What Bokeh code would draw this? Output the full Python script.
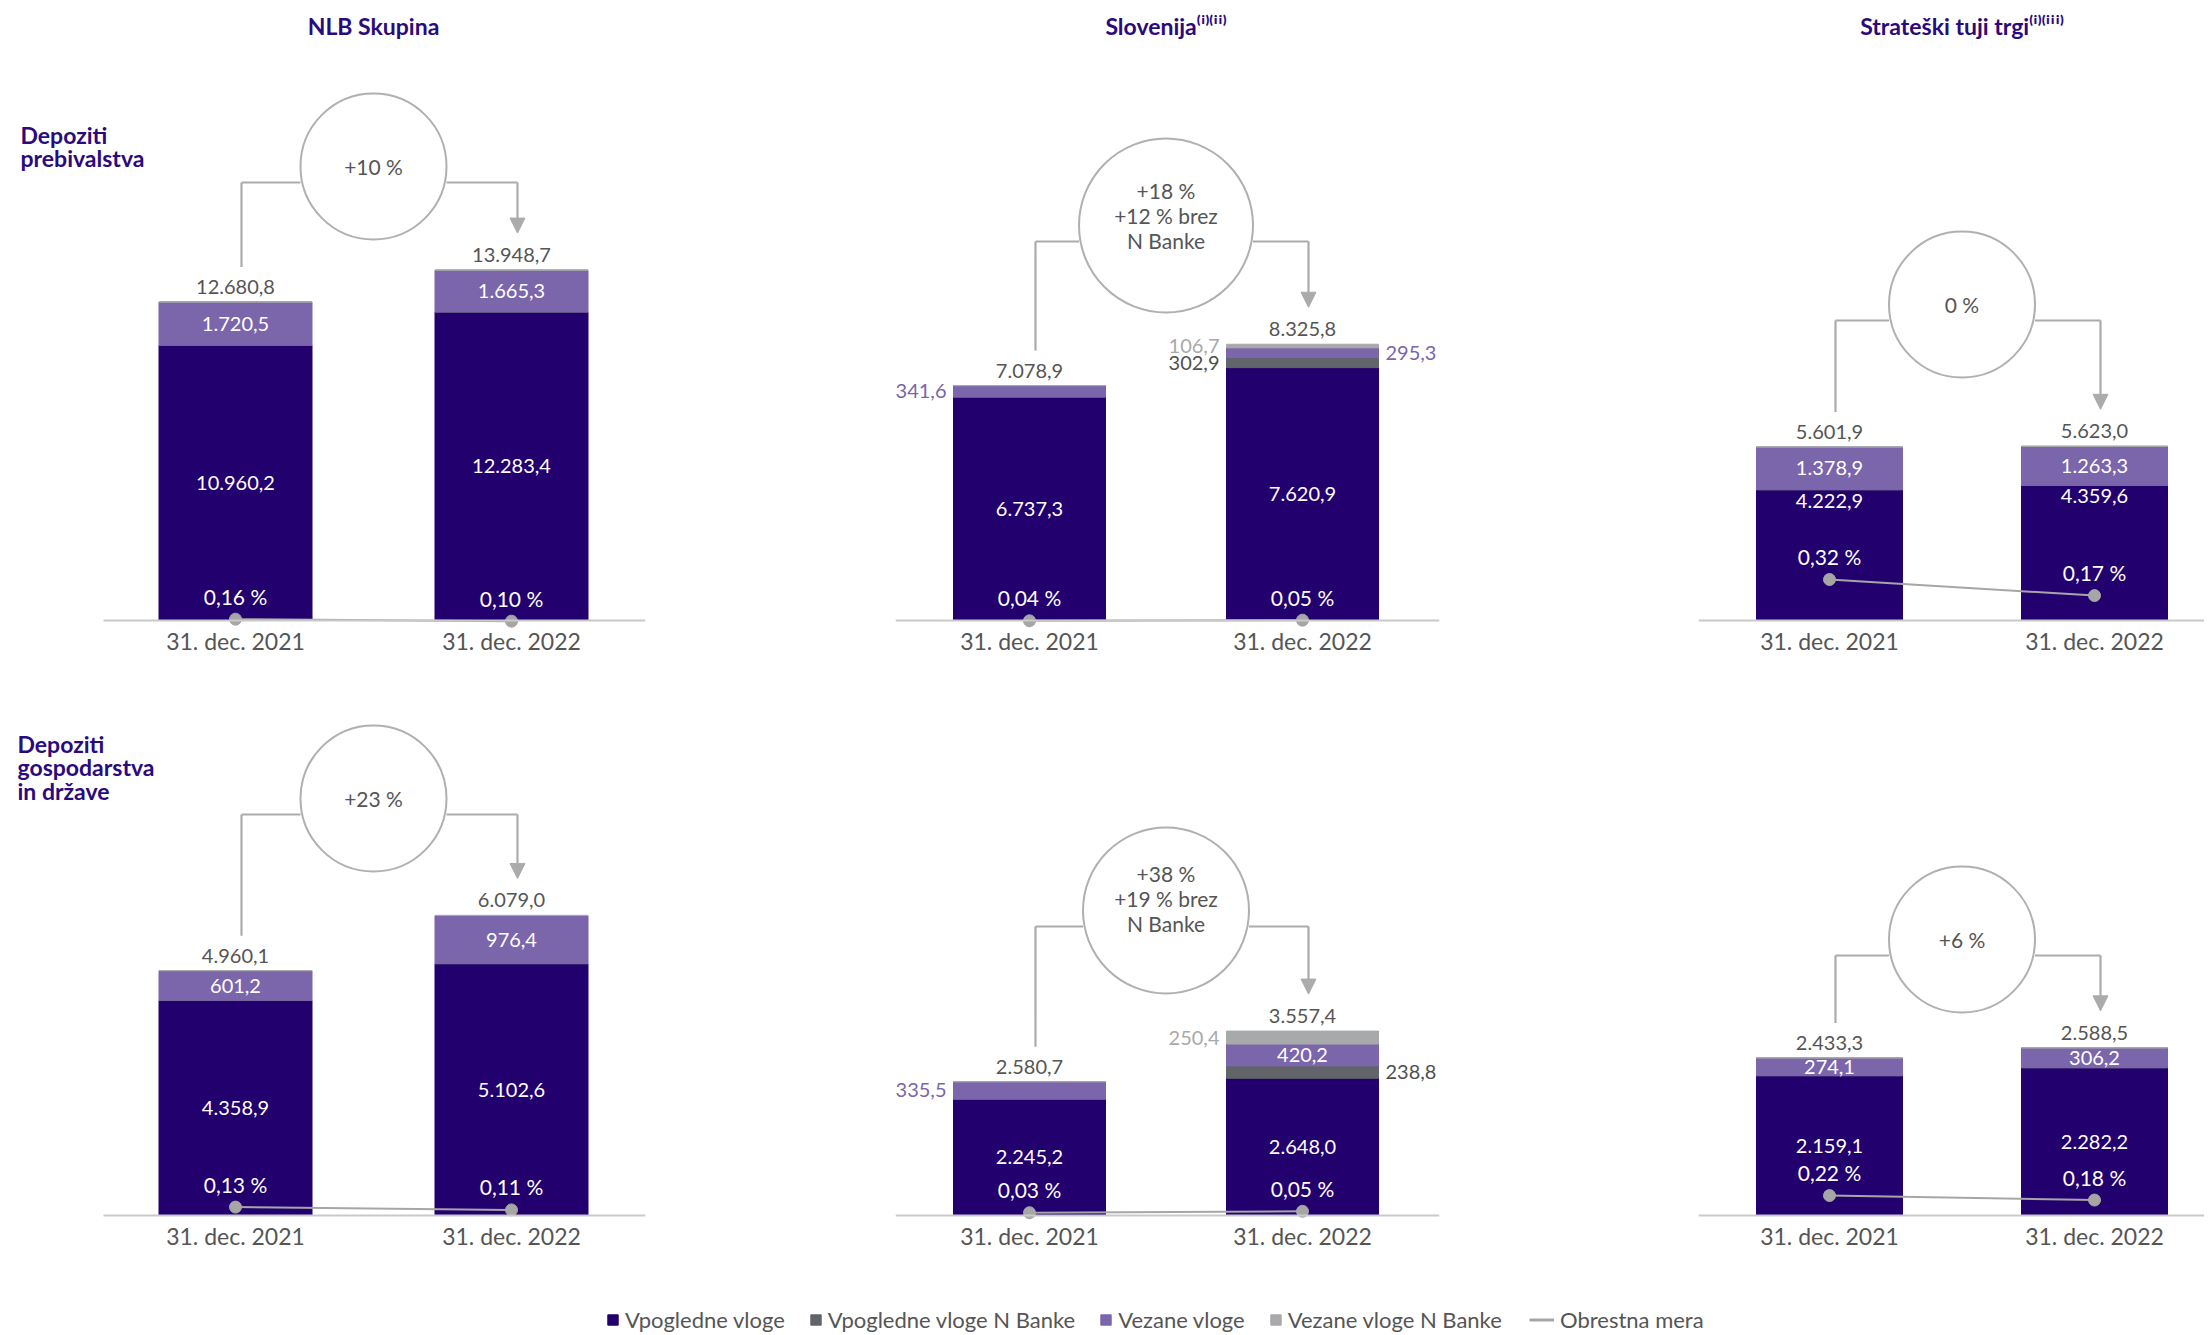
from bokeh.plotting import figure
from bokeh.models import (Range1d, LinearAxis, FixedTicker, Label, Arrow, NormalHead,
                          ColumnDataSource, Legend, LegendItem)
from bokeh.layouts import column, row
from bokeh.embed import file_html
from bokeh.resources import INLINE
from bokeh.core.properties import value

# ---------------- data ----------------
categories = ["31. dec. 2021", "31. dec. 2022"]
series_names = ["Vpogledne vloge", "Vpogledne vloge N Banke", "Vezane vloge", "Vezane vloge N Banke"]
rate_name = "Obrestna mera"
column_titles = ["NLB Skupina", "Slovenija⁽ⁱ⁾⁽ⁱⁱ⁾", "Strateški tuji trgi⁽ⁱ⁾⁽ⁱⁱⁱ⁾"]
row_titles = ["Depoziti\nprebivalstva", "Depoziti\ngospodarstva\nin države"]

# Depoziti prebivalstva
nlb_hh_vpogledne = [10960.2, 12283.4]
nlb_hh_vpogledne_n = [0.0, 0.0]
nlb_hh_vezane = [1720.5, 1665.3]
nlb_hh_vezane_n = [0.0, 0.0]
nlb_hh_total = [12680.8, 13948.7]
nlb_hh_rate = [0.16, 0.10]
nlb_hh_change = "+10 %"

slo_hh_vpogledne = [6737.3, 7620.9]
slo_hh_vpogledne_n = [0.0, 302.9]
slo_hh_vezane = [341.6, 295.3]
slo_hh_vezane_n = [0.0, 106.7]
slo_hh_total = [7078.9, 8325.8]
slo_hh_rate = [0.04, 0.05]
slo_hh_change = "+18 %\n+12 % brez\nN Banke"

stm_hh_vpogledne = [4222.9, 4359.6]
stm_hh_vpogledne_n = [0.0, 0.0]
stm_hh_vezane = [1378.9, 1263.3]
stm_hh_vezane_n = [0.0, 0.0]
stm_hh_total = [5601.9, 5623.0]
stm_hh_rate = [0.32, 0.17]
stm_hh_change = "0 %"

# Depoziti gospodarstva in države
nlb_corp_vpogledne = [4358.9, 5102.6]
nlb_corp_vpogledne_n = [0.0, 0.0]
nlb_corp_vezane = [601.2, 976.4]
nlb_corp_vezane_n = [0.0, 0.0]
nlb_corp_total = [4960.1, 6079.0]
nlb_corp_rate = [0.13, 0.11]
nlb_corp_change = "+23 %"

slo_corp_vpogledne = [2245.2, 2648.0]
slo_corp_vpogledne_n = [0.0, 238.8]
slo_corp_vezane = [335.5, 420.2]
slo_corp_vezane_n = [0.0, 250.4]
slo_corp_total = [2580.7, 3557.4]
slo_corp_rate = [0.03, 0.05]
slo_corp_change = "+38 %\n+19 % brez\nN Banke"

stm_corp_vpogledne = [2159.1, 2282.2]
stm_corp_vpogledne_n = [0.0, 0.0]
stm_corp_vezane = [274.1, 306.2]
stm_corp_vezane_n = [0.0, 0.0]
stm_corp_total = [2433.3, 2588.5]
stm_corp_rate = [0.22, 0.18]
stm_corp_change = "+6 %"

panels = [
    [dict(series=[nlb_hh_vpogledne, nlb_hh_vpogledne_n, nlb_hh_vezane, nlb_hh_vezane_n],
          total=nlb_hh_total, rate=nlb_hh_rate, change=nlb_hh_change),
     dict(series=[slo_hh_vpogledne, slo_hh_vpogledne_n, slo_hh_vezane, slo_hh_vezane_n],
          total=slo_hh_total, rate=slo_hh_rate, change=slo_hh_change),
     dict(series=[stm_hh_vpogledne, stm_hh_vpogledne_n, stm_hh_vezane, stm_hh_vezane_n],
          total=stm_hh_total, rate=stm_hh_rate, change=stm_hh_change)],
    [dict(series=[nlb_corp_vpogledne, nlb_corp_vpogledne_n, nlb_corp_vezane, nlb_corp_vezane_n],
          total=nlb_corp_total, rate=nlb_corp_rate, change=nlb_corp_change),
     dict(series=[slo_corp_vpogledne, slo_corp_vpogledne_n, slo_corp_vezane, slo_corp_vezane_n],
          total=slo_corp_total, rate=slo_corp_rate, change=slo_corp_change),
     dict(series=[stm_corp_vpogledne, stm_corp_vpogledne_n, stm_corp_vezane, stm_corp_vezane_n],
          total=stm_corp_total, rate=stm_corp_rate, change=stm_corp_change)],
]

# ---------------- styles ----------------
FONT = "Lato"
C_SER = ["#22006e", "#616469", "#7b65ab", "#a8a9ab"]
C_SER_LABEL = [None, "#4f4f4f", "#7b65ab", "#a9a9a9"]
C_RATE = "#a6a6a6"
C_TEXT = "#555555"
C_TITLE = "#2a0a7c"
C_CIRCLE = "#b0b0b0"
C_CONN = "#ababab"
C_AXIS = "#c9c9c9"

# page-pixel geometry of the three columns (page origin = 0)
COLS = [dict(w=870, bl=0, br=225, fw=645, xs=276.0, off=235, bw=153, ax_left=103),
        dict(w=730, bl=25, br=161, fw=544, xs=273.0, off=134, bw=152, ax_left=895),
        dict(w=604, bl=98, br=0, fw=506, xs=265.0, off=131, bw=146, ax_left=1698)]
COL_LEFT = [0, 870, 1600]
ROWS = [dict(h=690, fh=628, bb=62, pad=8, top=0),
        dict(h=605, fh=533, bb=72, pad=8, top=690)]
ROW_LABEL_TOP = [120, 729]
ROW_LABEL_LEFT = [20, 17]

IN2 = [["in", None, "in", None], ["in", None, "in", None]]
STYLES = [
    [dict(scale=0.02512, cpx=454, r=73, toff=0, rlo=0.12, rpx=33, place=IN2),
     dict(scale=0.03318, cpx=395, r=87, toff=-10, rlo=0.045, rpx=60,
          place=[["in", None, "left", None], ["in", "left", "right", "left"]]),
     dict(scale=0.03098, cpx=316, r=73, toff=0, rlo=-0.063, rpx=107,
          place=[["top", None, "in", None], ["top", None, "in", None]])],
    [dict(scale=0.04936, cpx=417, r=73, toff=0, rlo=0.07, rpx=140, place=IN2),
     dict(scale=0.05184, cpx=305, r=83, toff=-12, rlo=-0.01, rpx=70,
          place=[["in", None, "left", None], ["in", "right", "in", "left"]]),
     dict(scale=0.06477, cpx=276, r=73, toff=0, rlo=0.042, rpx=112, place=IN2)],
]


def fmt_num(v):
    s = f"{v:,.1f}"
    return s.replace(",", " ").replace(".", ",").replace(" ", ".")


def fmt_rate(r):
    return f"{r:.2f}".replace(".", ",") + " %"


def txt(p, x, y, t, color, size="20px", align="center", baseline="middle", yoff=0,
        bold=False, yrange=None, lh=1.2):
    kw = {}
    if yrange:
        kw["y_range_name"] = yrange
    p.text(x=[x], y=[y], text=[t], text_color=color, text_font=value(FONT),
           text_font_size=size, text_align=align, text_baseline=baseline,
           y_offset=yoff, text_font_style="bold" if bold else "normal",
           text_line_height=lh, **kw)


def make_panel(ri, ci):
    d = panels[ri][ci]
    st = STYLES[ri][ci]
    cg = COLS[ci]
    rg = ROWS[ri]
    xs = cg["xs"]
    x0 = -cg["off"] / xs
    x1 = x0 + cg["fw"] / xs
    frame_left_page = COL_LEFT[ci] + cg["bl"]
    s = st["scale"]
    pad = rg["pad"]
    y0 = -pad / s
    y1 = y0 + rg["fh"] / s
    baseline_page = rg["top"] + rg["fh"] - pad

    p = figure(width=cg["w"], height=rg["h"], x_range=Range1d(x0, x1),
               y_range=Range1d(y0, y1), min_border_left=cg["bl"],
               min_border_right=cg["br"], min_border_top=0, min_border_bottom=rg["bb"],
               toolbar_location=None, output_backend="svg", x_axis_location=None,
               y_axis_location=None, title=None, outline_line_color=None)
    p.grid.visible = False
    rlo = st["rlo"]
    rpx = st["rpx"]
    p.extra_y_ranges = {"rate": Range1d(rlo - pad / rpx, rlo + (rg["fh"] - pad) / rpx)}

    xpos = list(range(len(categories)))
    bw = cg["bw"] / xs
    keys = ["vp", "vpn", "vz", "vzn"]
    src = ColumnDataSource(dict(x=xpos, **{k: v for k, v in zip(keys, d["series"])}))
    p.vbar_stack(keys, x="x", width=bw, color=C_SER, source=src)

    # category labels (axis below the frame, line hidden)
    ax = LinearAxis(ticker=FixedTicker(ticks=xpos),
                    major_label_overrides={i: c for i, c in enumerate(categories)},
                    axis_line_color=None, major_tick_line_color=None,
                    minor_tick_line_color=None, major_label_standoff=-8,
                    major_label_text_font=FONT, major_label_text_font_size="23px",
                    major_label_text_color=C_TEXT)
    p.add_layout(ax, "below")
    # base line at zero
    ax_x0 = x0 + (cg["ax_left"] - frame_left_page) / xs
    base = LinearAxis(ticker=FixedTicker(ticks=[]), fixed_location=0, bounds=(ax_x0, x1),
                      axis_line_color=C_AXIS, axis_line_width=2,
                      major_tick_line_color=None, minor_tick_line_color=None,
                      major_label_text_font_size="0px")
    p.add_layout(base, "below")

    # segment labels
    gap = 7 / xs
    for i in xpos:
        cum = 0.0
        for k, ser in enumerate(d["series"]):
            v = ser[i]
            pl = st["place"][i][k]
            if v > 0 and pl:
                mid = cum + v / 2
                if pl == "in":
                    txt(p, i, mid, fmt_num(v), "white")
                elif pl == "top":
                    txt(p, i, cum + v, fmt_num(v), "white", yoff=11)
                elif pl == "left":
                    txt(p, i - bw / 2 - gap, mid, fmt_num(v), C_SER_LABEL[k], align="right")
                elif pl == "right":
                    txt(p, i + bw / 2 + gap, mid, fmt_num(v), C_SER_LABEL[k], align="left")
            cum += v
        txt(p, i, d["total"][i], fmt_num(d["total"][i]), C_TEXT, yoff=-15)

    # interest rate line
    p.line(x=xpos, y=d["rate"], y_range_name="rate", line_color=C_RATE, line_width=2)
    p.scatter(x=xpos, y=d["rate"], y_range_name="rate", size=12, marker="circle",
              fill_color=C_RATE, line_color=C_RATE)
    for i in xpos:
        txt(p, i, d["rate"][i], fmt_rate(d["rate"][i]), "white", size="21px", yoff=-23,
            yrange="rate")

    # change circle and connectors
    mid_x = sum(xpos) / len(xpos)
    cy = st["cpx"] / s
    r = st["r"]
    lvl = cy - 16 / s
    dx = 6 / xs
    xl = xpos[0] + dx
    xr = xpos[-1] + dx
    p.segment(x0=[xl, xl, mid_x + r / xs], y0=[lvl, lvl, lvl],
              x1=[xl, mid_x - r / xs, xr], y1=[d["total"][0] + 35 / s, lvl, lvl],
              line_color=C_CONN, line_width=2.2)
    p.add_layout(Arrow(x_start=xr, y_start=lvl, x_end=xr, y_end=d["total"][-1] + 37 / s,
                       line_color=C_CONN, line_width=2.2,
                       end=NormalHead(size=15, fill_color=C_CONN, line_color=C_CONN)))
    p.scatter(x=[mid_x], y=[cy], size=2 * r, marker="circle", fill_color="white",
              line_color=C_CIRCLE, line_width=2)
    txt(p, mid_x, cy, d["change"], C_TEXT, size="21px", yoff=st["toff"], lh=1.0)

    # column title
    if ri == 0:
        txt(p, mid_x, (baseline_page - 25) / s, column_titles[ci], C_TITLE, size="23px",
            bold=True)
    # row title
    if ci == 0:
        p.add_layout(Label(x=x0 + (ROW_LABEL_LEFT[ri] - frame_left_page) / xs,
                           y=(baseline_page - ROW_LABEL_TOP[ri]) / s, text=row_titles[ri],
                           text_font=FONT, text_font_style="bold", text_font_size="23px",
                           text_color=C_TITLE, text_align="left", text_baseline="top",
                           text_line_height=0.85))
    return p


rows = [row(*[make_panel(ri, ci) for ci in range(3)]) for ri in range(2)]

# legend
LEG_H = 38
lg = figure(width=sum(c["w"] for c in COLS), height=LEG_H, x_range=Range1d(0, 1),
            y_range=Range1d(0, 1), min_border=0, toolbar_location=None,
            output_backend="svg", x_axis_location=None, y_axis_location=None, title=None,
            outline_line_color=None)
lg.grid.visible = False
# legend-only renderers placed outside the visible range
sq = [lg.vbar(x=[5], top=[5], bottom=[4], width=0.1, color=c) for c in C_SER]
ln = lg.line(x=[5, 6], y=[5, 5], line_color=C_RATE, line_width=3)
common = dict(orientation="horizontal", padding=0, margin=0, border_line_color=None,
              background_fill_alpha=0, label_text_font=FONT, label_text_font_size="22px",
              label_text_color=C_TEXT, label_standoff=6, spacing=24, glyph_height=13,
              label_height=24)
leg1 = Legend(items=[LegendItem(label=n, renderers=[r]) for n, r in zip(series_names, sq)],
              location=(606, 0), glyph_width=13, **common)
leg2 = Legend(items=[LegendItem(label=rate_name, renderers=[ln])],
              location=(1529, 0), glyph_width=25, **common)
lg.add_layout(leg1)
lg.add_layout(leg2)

layout = column(rows[0], rows[1], lg)
open("out.html", "w").write(file_html(layout, INLINE))
